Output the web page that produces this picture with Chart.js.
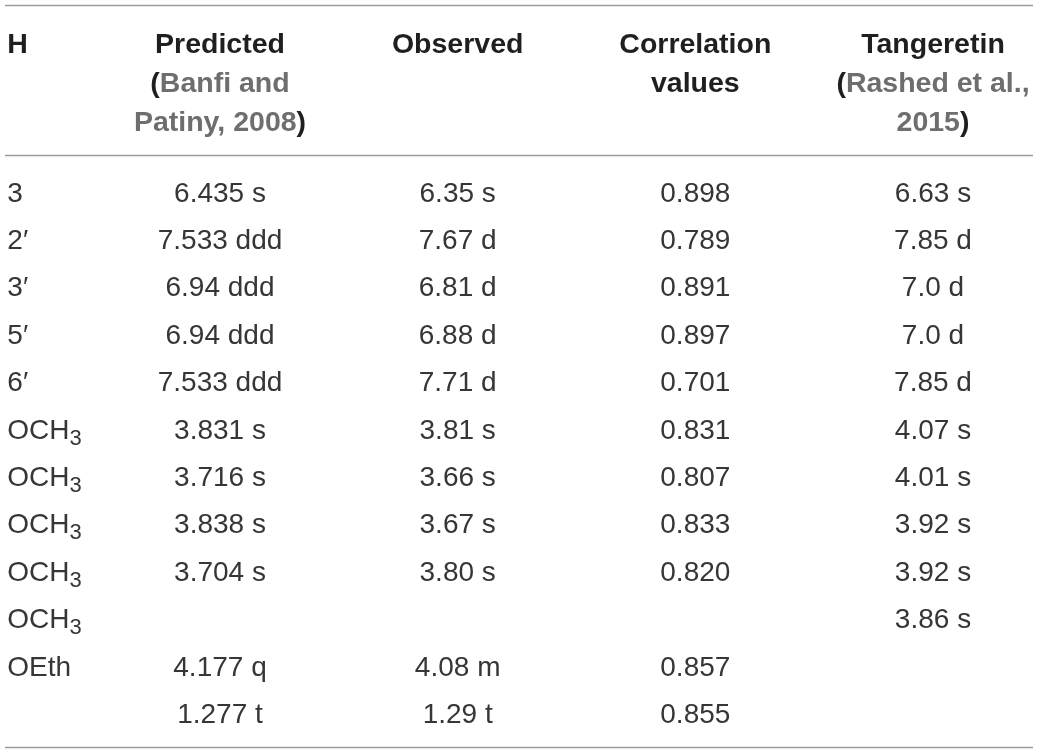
<!DOCTYPE html>
<html>
<head>
<meta charset="utf-8">
<script src="https://cdn.jsdelivr.net/npm/chart.js@4/dist/chart.umd.min.js"></script>
<style>
html,body{margin:0;padding:0;background:#fff;}
#wrap{width:1039px;height:753px;}
</style>
</head>
<body>
<div id="wrap"><canvas id="c" width="1039" height="753"></canvas></div>
<script>
// ---- Table content ----
const rowLabels = ['3','2′','3′','5′','6′','OCH','OCH','OCH','OCH','OCH','OEth',''];
const rowSubs   = ['','','','','','3','3','3','3','3','',''];
const predicted = ['6.435 s','7.533 ddd','6.94 ddd','6.94 ddd','7.533 ddd','3.831 s','3.716 s','3.838 s','3.704 s','','4.177 q','1.277 t'];
const observed  = ['6.35 s','7.67 d','6.81 d','6.88 d','7.71 d','3.81 s','3.66 s','3.67 s','3.80 s','','4.08 m','1.29 t'];
const correlation = ['0.898','0.789','0.891','0.897','0.701','0.831','0.807','0.833','0.820','','0.857','0.855'];
const tangeretin = ['6.63 s','7.85 d','7.0 d','7.0 d','7.85 d','4.07 s','4.01 s','3.92 s','3.92 s','3.86 s','',''];

// header lines per column: runs of [text, style] ; b = bold black, g = bold grey (citation)
const headerH = [[['H','b']]];
const headerPredicted = [[['Predicted','b']],[['(','b'],['Banfi and','g']],[['Patiny, 2008','g'],[')','b']]];
const headerObserved = [[['Observed','b']]];
const headerCorrelation = [[['Correlation','b']],[['values','b']]];
const headerTangeretin = [[['Tangeretin','b']],[['(','b'],['Rashed et al.,','g']],[['2015','g'],[')','b']]];

const columns = [rowLabels, predicted, observed, correlation, tangeretin];
const headers = [headerH, headerPredicted, headerObserved, headerCorrelation, headerTangeretin];

// ---- build datasets: one invisible point per cell ----
const datasets = columns.map((col, ci) => ({
  label: 'col' + ci,
  data: col.map((t, ri) => ({x: ci, y: ri, text: t, sub: ci === 0 ? rowSubs[ri] : ''})),
  pointRadius: 0,
  pointHoverRadius: 0,
  showLine: false
}));

const FONT = '"Liberation Sans", Arial, Helvetica, sans-serif';
const C_BODY = '#363636';
const C_HEAD = '#1f1f1f';
const C_CITE = '#6e6e6e';
const C_RULE = '#9a9a9a';

const tablePlugin = {
  id: 'tablePlugin',
  afterDatasetsDraw(chart) {
    const ctx = chart.ctx;
    const xs = chart.scales.x, ys = chart.scales.y;
    ctx.save();
    // rules
    ctx.strokeStyle = C_RULE;
    ctx.lineWidth = 1.6;
    const ruleRows = [-4.150, -0.985, 11.504];
    ruleRows.forEach(v => {
      const y = Math.round(ys.getPixelForValue(v)) + 0.5;
      ctx.beginPath();
      ctx.moveTo(5, y);
      ctx.lineTo(1033, y);
      ctx.stroke();
    });
    // header
    const headRows = [-3.147, -2.314, -1.481];
    ctx.textBaseline = 'alphabetic';
    ctx.font = 'bold 28.5px ' + FONT;
    headers.forEach((lines, ci) => {
      const cx = xs.getPixelForValue(ci);
      lines.forEach((runs, li) => {
        const y = ys.getPixelForValue(headRows[li]);
        const widths = runs.map(r => ctx.measureText(r[0]).width);
        const total = widths.reduce((a, b) => a + b, 0);
        let x = ci === 0 ? cx + 25 : cx - total / 2;
        runs.forEach((r, k) => {
          ctx.fillStyle = r[1] === 'g' ? C_CITE : C_HEAD;
          ctx.textAlign = 'left';
          ctx.fillText(r[0], x, y);
          x += widths[k];
        });
      });
    });
    // body cells
    chart.data.datasets.forEach((ds, di) => {
      const meta = chart.getDatasetMeta(di);
      meta.data.forEach((el, j) => {
        const d = ds.data[j];
        if (!d.text) return;
        ctx.fillStyle = C_BODY;
        ctx.font = '28px ' + FONT;
        if (di === 0) {
          ctx.textAlign = 'left';
          const x = el.x + 25;
          ctx.fillText(d.text, x, el.y);
          if (d.sub) {
            const w = ctx.measureText(d.text).width;
            ctx.font = '22px ' + FONT;
            ctx.fillText(d.sub, x + w, el.y + 6);
          }
        } else {
          ctx.textAlign = 'center';
          ctx.fillText(d.text, el.x, el.y);
        }
      });
    });
    ctx.restore();
  }
};

new Chart(document.getElementById('c'), {
  type: 'scatter',
  data: { datasets },
  options: {
    responsive: false,
    animation: false,
    devicePixelRatio: 1,
    layout: { padding: 0 },
    plugins: { legend: { display: false }, tooltip: { enabled: false } },
    events: [],
    scales: {
      x: { type: 'linear', display: false, min: 0.0743, max: 4.446 },
      y: { type: 'linear', display: false, reverse: true, min: -4.255, max: 11.631 }
    }
  },
  plugins: [tablePlugin]
});
</script>
</body>
</html>
